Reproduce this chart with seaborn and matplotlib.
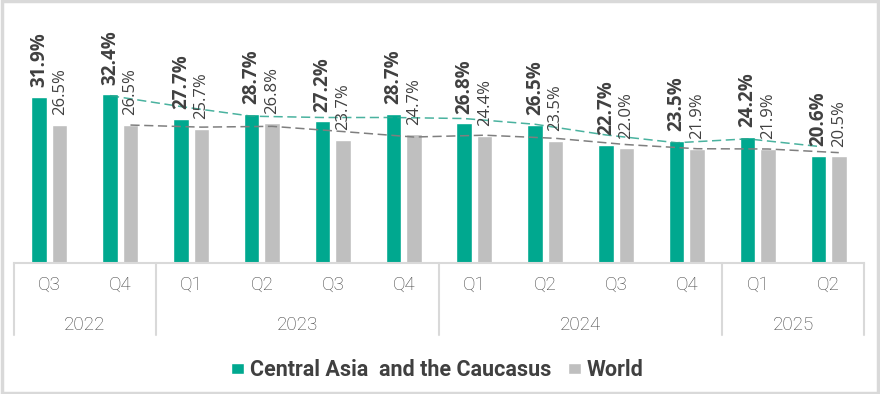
import matplotlib.pyplot as plt
import matplotlib.transforms as mtransforms
from matplotlib.patches import Patch, Rectangle
import seaborn as sns
import pandas as pd
import numpy as np

# data
quarters = ["Q3", "Q4", "Q1", "Q2", "Q3", "Q4", "Q1", "Q2", "Q3", "Q4", "Q1", "Q2"]
years = ["2022", "2023", "2024", "2025"]
year_counts = [2, 4, 4, 2]
central_asia = [31.9, 32.4, 27.7, 28.7, 27.2, 28.7, 26.8, 26.5, 22.7, 23.5, 24.2, 20.6]
world = [26.5, 26.5, 25.7, 26.8, 23.7, 24.7, 24.4, 23.5, 22.0, 21.9, 21.9, 20.5]
series_names = ["Central Asia  and the Caucasus", "World"]

GREEN = "#00a88f"
GREY = "#bfbfbf"
TEXT = "#404040"
LINE = "#d9d9d9"

periods = []
i = 0
for y, n in zip(years, year_counts):
    for k in range(n):
        periods.append(f"{quarters[i]} {y}")
        i += 1

df = pd.DataFrame({
    "period": periods * 2,
    "value": central_asia + world,
    "series": [series_names[0]] * len(periods) + [series_names[1]] * len(periods),
})

sns.set_theme(style="white")
plt.rcParams["font.family"] = ["Open Sans", "DejaVu Sans"]

fig = plt.figure(figsize=(8.8, 3.94), dpi=100)
ax = fig.add_axes([14 / 880, 1 - 263 / 394, 850 / 880, 253 / 394])

sns.barplot(data=df, x="period", y="value", hue="series", order=periods,
            hue_order=series_names, palette=[GREEN, GREY],
            width=0.58, gap=0.24, legend=False, ax=ax, saturation=1)

ax.set_xlim(-0.5, len(periods) - 0.5)
ax.set_ylim(0, 48.6)

# data labels
ax.bar_label(ax.containers[0], fmt="%.1f%%", rotation=90, padding=7,
             fontsize=13.5, fontweight="bold", color=TEXT)
ax.bar_label(ax.containers[1], fmt="%.1f%%", rotation=90, padding=7,
             fontsize=12, color=TEXT)

# two-period moving average trend lines
x = np.arange(len(periods))
off = 0.144
ma_ca = pd.Series(central_asia).rolling(2).mean()
ma_w = pd.Series(world).rolling(2).mean()
ax.plot(x - off, ma_ca, color="#2aa58e", lw=1.1, ls=(0, (6, 3)), alpha=0.85)
ax.plot(x + off, ma_w, color="#7f7f7f", lw=1.1, ls=(0, (6, 3)))

# axes cosmetics
for s in ["top", "right", "left"]:
    ax.spines[s].set_visible(False)
ax.spines["bottom"].set_color(LINE)
ax.spines["bottom"].set_linewidth(1.5)
ax.set_yticks([])
ax.set_xlabel("")
ax.set_ylabel("")
ax.set_xticks(x)
ax.set_xticklabels(quarters, fontsize=13.5, color=TEXT, family="Roboto",
                   fontweight="light")
ax.tick_params(axis="x", length=0, pad=9)

# year labels and group separators
trans = mtransforms.blended_transform_factory(ax.transData, ax.transAxes)
edges = np.concatenate([[0], np.cumsum(year_counts)]) - 0.5
drop = -72 / 253
for e in edges:
    ax.plot([e, e], [0, drop], color=LINE, lw=1.5, transform=trans, clip_on=False)
for y, a, b in zip(years, edges[:-1], edges[1:]):
    ax.text((a + b) / 2, -62.5 / 253, y, transform=trans, ha="center", va="center",
            fontsize=13.5, color=TEXT, family="Roboto", fontweight="light")

# legend
handles = [Patch(facecolor=GREEN), Patch(facecolor=GREY)]
fig.legend(handles, series_names, loc="center", bbox_to_anchor=(0.497, 1 - 370 / 394),
           ncol=2, frameon=False, handlelength=0.6, handleheight=0.45,
           handletextpad=0.3, columnspacing=0.75,
           prop={"family": "Roboto", "weight": "bold", "size": 15.5},
           labelcolor=TEXT)

# figure border
fig.patches.append(Rectangle((0.002, 0.003), 0.996, 0.994, transform=fig.transFigure,
                             fill=False, edgecolor=LINE, lw=2.5))

fig.savefig("out.png", dpi=100)
